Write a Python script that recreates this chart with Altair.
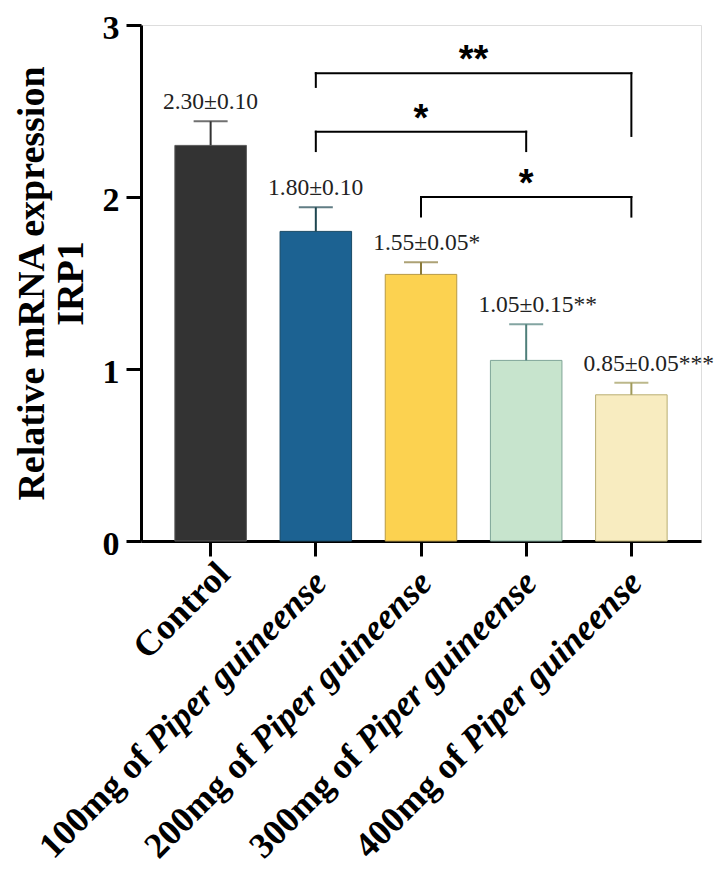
import altair as alt
import pandas as pd

# ---------------- data ----------------
groups = ["Control", "100mg of Piper guineense", "200mg of Piper guineense",
          "300mg of Piper guineense", "400mg of Piper guineense"]
dose_text = ["Control", "100mg of", "200mg of", "300mg of", "400mg of"]
species_text = ["", "Piper guineense", "Piper guineense", "Piper guineense", "Piper guineense"]
means = [2.30, 1.80, 1.55, 1.05, 0.85]
err_top = [2.44, 1.94, 1.62, 1.26, 0.92]
value_labels = ["2.30±0.10", "1.80±0.10", "1.55±0.05*", "1.05±0.15**", "0.85±0.05***"]

fill_colors = ["#333333", "#1c6292", "#fcd250", "#c7e4cd", "#f8ecc0"]
edge_colors = ["#5a5a5a", "#1a4a66", "#b89a44", "#7fa597", "#b9ae72"]
err_colors = ["#333333", "#1e4650", "#8a7a3a", "#4f7f7a", "#a09a5a"]

br_left = [groups[1], groups[1], groups[2]]
br_right = [groups[4], groups[3], groups[4]]
br_y = [2.72, 2.38, 2.00]
br_left_low = [2.64, 2.267, 1.886]
br_right_low = [2.355, 2.267, 1.886]
br_label = ["**", "*", "*"]
br_star_at = [groups[2], groups[2], groups[3]]
br_half_step = [True, False, False]

# ---------------- layout ----------------
W, H = 560, 516
P_IN, P_OUT = 0.32, 0.322
STEP = W / (len(groups) - P_IN + 2 * P_OUT)

df = pd.DataFrame({
    "group": groups, "dose": dose_text, "species": species_text,
    "mean": means, "top": err_top, "label": value_labels,
})
br = pd.DataFrame({
    "left": br_left, "right": br_right, "y": br_y, "ll": br_left_low,
    "rl": br_right_low, "lab": br_label, "at": br_star_at, "half": br_half_step,
})

xs = alt.Scale(domain=groups, paddingInner=P_IN, paddingOuter=P_OUT)
ys = alt.Scale(domain=[0, 3], nice=False)

X = alt.X("group:N", scale=xs, sort=groups,
          axis=alt.Axis(labels=False, title=None, domainWidth=3, domainColor="black",
                        tickWidth=3, tickSize=15, tickColor="black"))
Y = alt.Y("mean:Q", scale=ys,
          axis=alt.Axis(values=[0, 1, 2, 3], format="d", grid=False, domainWidth=3,
                        domainColor="black", tickWidth=3, tickSize=15, tickColor="black",
                        labelFont="Liberation Serif", labelFontWeight="bold",
                        labelFontSize=34, labelColor="black", labelPadding=7,
                        labelBaseline="middle", labelOffset=3,
                        title=["Relative mRNA expression", "IRP1"],
                        titleFont="Liberation Serif", titleFontWeight="bold",
                        titleFontSize=38, titleColor="black", titleLineHeight=39,
                        titleBaseline="alphabetic", titleAngle=270,
                        titleX=-98, titleY=H / 2))

base = alt.Chart(df)

bars = base.mark_bar(strokeWidth=1).encode(
    x=X, y=Y,
    fill=alt.Fill("group:N", scale=alt.Scale(domain=groups, range=fill_colors), legend=None),
    stroke=alt.Stroke("group:N", scale=alt.Scale(domain=groups, range=edge_colors), legend=None),
)

err_color = alt.Color("group:N", scale=alt.Scale(domain=groups, range=err_colors), legend=None)

err = base.mark_rule(strokeWidth=2).encode(
    x=alt.X("group:N", scale=xs), y=alt.Y("mean:Q", scale=ys), y2="top:Q", color=err_color)

caps = base.mark_tick(size=34, thickness=2, orient="horizontal").encode(
    x=alt.X("group:N", scale=xs), y=alt.Y("top:Q", scale=ys), color=err_color)

VFS = 23.5
vals = base.mark_text(font="Liberation Serif", fontSize=VFS, align="left",
                      dx=-4.064 * VFS / 2, dy=-12, baseline="alphabetic",
                      color="#222222").encode(
    x=alt.X("group:N", scale=xs), y=alt.Y("top:Q", scale=ys), text="label:N")

# significance brackets
bbase = alt.Chart(br)
hline = bbase.mark_rule(strokeWidth=2, color="black", strokeCap="square").encode(
    x=alt.X("left:N", scale=xs), x2="right:N", y=alt.Y("y:Q", scale=ys))
lleg = bbase.mark_rule(strokeWidth=2, color="black", strokeCap="square").encode(
    x=alt.X("left:N", scale=xs), y=alt.Y("y:Q", scale=ys), y2="ll:Q")
rleg = bbase.mark_rule(strokeWidth=2, color="black", strokeCap="square").encode(
    x=alt.X("right:N", scale=xs), y=alt.Y("y:Q", scale=ys), y2="rl:Q")

star_style = dict(font="Liberation Sans", fontWeight="bold", fontSize=38,
                  baseline="alphabetic", align="center", dy=-1, color="black")
stars_c = bbase.transform_filter("!datum.half").mark_text(**star_style).encode(
    x=alt.X("at:N", scale=xs), y=alt.Y("y:Q", scale=ys), text="lab:N")
stars_h = bbase.transform_filter("datum.half").mark_text(dx=STEP / 2, **star_style).encode(
    x=alt.X("at:N", scale=xs), y=alt.Y("y:Q", scale=ys), text="lab:N")

# rotated category labels (mixed upright / italic)
FS = 36
DX0, DY0 = -22, 40
W_IT = 6.639 * FS
W_SP = 0.25 * FS
lab_style = dict(font="Liberation Serif", fontSize=FS, fontWeight="bold",
                 angle=315, align="right", baseline="alphabetic", color="black")
treated = base.transform_filter("datum.species != ''")
control = base.transform_filter("datum.species == ''")
lab_it = treated.mark_text(dx=DX0, dy=DY0, fontStyle="italic", **lab_style).encode(
    x=alt.X("group:N", scale=xs), y=alt.datum(0), text="species:N")
lab_dose = treated.mark_text(dx=DX0 - W_IT - W_SP, dy=DY0, **lab_style).encode(
    x=alt.X("group:N", scale=xs), y=alt.datum(0), text="dose:N")
lab_ctrl = control.mark_text(dx=DX0 + 12, dy=DY0, **lab_style).encode(
    x=alt.X("group:N", scale=xs), y=alt.datum(0), text="dose:N")

chart = alt.layer(
    bars, err, caps, vals, hline, lleg, rleg, stars_c, stars_h, lab_it, lab_dose, lab_ctrl
).properties(
    width=W, height=H,
    autosize=alt.AutoSizeParams(type="none"),
    padding={"left": 133, "top": 17, "right": 14, "bottom": 335},
).configure_view(stroke=None).configure(background="white")

chart.save("out.html", embed_options={"renderer": "svg", "actions": False})
